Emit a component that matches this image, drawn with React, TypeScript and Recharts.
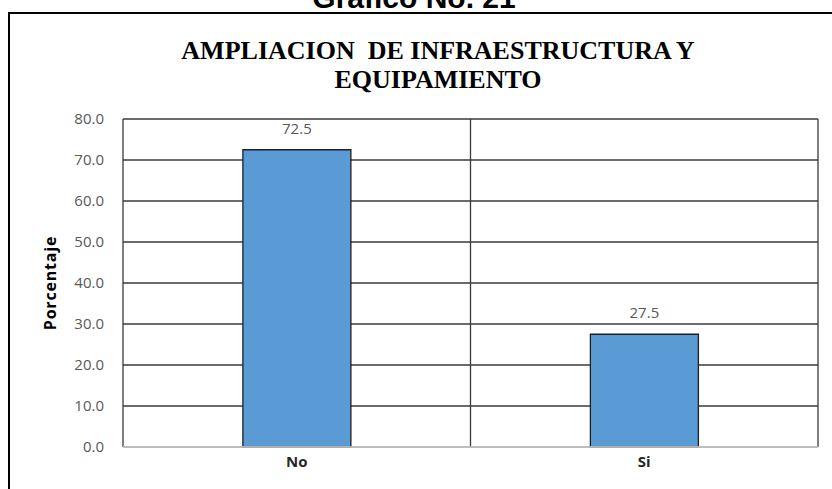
import { Bar, BarChart, CartesianGrid, LabelList, XAxis, YAxis } from 'recharts'

// Datos del gráfico (porcentaje por respuesta)
const categorias = ['No', 'Si']
const porcentajes = [72.5, 27.5]
const ticksY = [0, 10, 20, 30, 40, 50, 60, 70, 80]

const data = categorias.map((respuesta, i) => ({ respuesta, valor: porcentajes[i] }))

const fuente = '"Open Sans", "Noto Sans", sans-serif'
const fuenteTitulo = '"Liberation Serif", "Times New Roman", serif'
const colorLinea = '#3a3a3a'

function EtiquetaEjeY(props: any) {
  const vb = props.viewBox || {}
  const x = 50
  const y = (vb.y ?? 0) + (vb.height ?? 0) / 2
  return (
    <text
      x={x}
      y={y}
      transform={`rotate(-90, ${x}, ${y})`}
      textAnchor="middle"
      dominantBaseline="central"
      fontFamily={fuente}
      fontSize={16}
      fontWeight={700}
      fill="#000"
      letterSpacing={0.8}
    >
      Porcentaje
    </text>
  )
}

export default function App() {
  return (
    <div
      style={{
        position: 'absolute',
        left: 0,
        top: 0,
        width: 832,
        height: 489,
        background: '#fff',
        overflow: 'hidden',
      }}
    >
      {/* marco del gráfico */}
      <div
        style={{
          position: 'absolute',
          left: 8,
          top: 12,
          width: 1000,
          height: 1000,
          borderTop: '2px solid #000',
          borderLeft: '2px solid #000',
        }}
      />

      <BarChart
        width={832}
        height={489}
        data={data}
        margin={{ top: 119, right: 14, bottom: 12, left: 0 }}
        barCategoryGap="34.5%"
        style={{ position: 'absolute', left: 0, top: 0 }}
      >
        <CartesianGrid
          stroke={colorLinea}
          strokeWidth={1.3}
          verticalCoordinatesGenerator={({ offset }: any) => [
            offset.left,
            offset.left + offset.width / 2,
            offset.left + offset.width,
          ]}
        />
        <XAxis
          dataKey="respuesta"
          height={30}
          axisLine={{ stroke: '#d9d9d9', strokeWidth: 1.5 }}
          tickLine={false}
          tickSize={0}
          tickMargin={9}
          tick={{ fill: '#262626', fontSize: 15, fontWeight: 700, fontFamily: fuente }}
        />
        <YAxis
          width={123}
          domain={[0, 80]}
          ticks={ticksY}
          interval={0}
          axisLine={false}
          tickLine={false}
          tickSize={0}
          tickMargin={19}
          tickFormatter={(v: number) => v.toFixed(1)}
          tick={{ fill: '#595959', fontSize: 15, fontFamily: fuente }}
          label={<EtiquetaEjeY />}
        />
        <Bar dataKey="valor" fill="#5b9bd5" stroke="#1f1f1f" strokeWidth={1.3} isAnimationActive={false}>
          <LabelList
            dataKey="valor"
            position="top"
            offset={16}
            formatter={(v: any) => Number(v).toFixed(1)}
            style={{ fill: '#595959', fontSize: 15, fontFamily: fuente }}
          />
        </Bar>
      </BarChart>

      {/* títulos */}
      <svg width={832} height={489} style={{ position: 'absolute', left: 0, top: 0, pointerEvents: 'none' }}>
        <text
          x={414}
          y={8}
          textAnchor="middle"
          fontFamily='"Liberation Sans", Arial, sans-serif'
          fontSize={30}
          fontWeight={700}
          fill="#000"
        >
          Grafico No. 21
        </text>
        <text
          x={438}
          y={59}
          textAnchor="middle"
          fontFamily={fuenteTitulo}
          fontSize={26}
          fontWeight={700}
          fill="#000"
          style={{ whiteSpace: 'pre' }}
        >
          AMPLIACION  DE INFRAESTRUCTURA Y
        </text>
        <text
          x={438}
          y={88}
          textAnchor="middle"
          fontFamily={fuenteTitulo}
          fontSize={26}
          fontWeight={700}
          fill="#000"
        >
          EQUIPAMIENTO
        </text>
      </svg>
    </div>
  )
}
